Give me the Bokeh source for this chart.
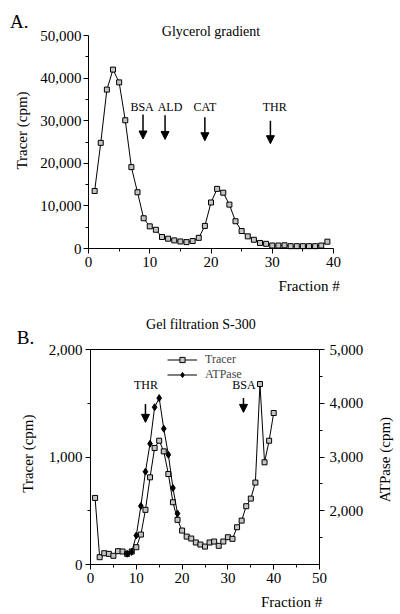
import math
from bokeh.plotting import figure
from bokeh.layouts import column
from bokeh.models import (Range1d, LinearAxis, FixedTicker, NumeralTickFormatter,
                          Label, Arrow, NormalHead, ColumnDataSource, Legend, LegendItem)
from bokeh.embed import file_html
from bokeh.resources import INLINE

FONT = "Liberation Serif"

# ---------------- Panel A data: glycerol gradient ----------------
fractions_a = list(range(1, 40))
tracer_a = [13500, 24800, 37300, 42000, 39000, 30100, 19100, 13200, 7100, 5200,
            4400, 2700, 2300, 1900, 1650, 1500, 1750, 2500, 5300, 10800,
            14000, 13100, 10300, 6400, 4100, 2850, 2050, 1300, 1100, 700,
            700, 750, 550, 550, 550, 550, 550, 700, 1600]
markers_a = ["BSA", "ALD", "CAT", "THR"]
marker_a_x = [8.9, 12.5, 19.0, 29.7]
marker_a_label_x = [8.75, 13.3, 19.0, 30.4]
marker_a_top = [31450, 31300, 30800, 30000]
marker_a_tip = [25700, 25600, 25300, 24600]
marker_a_label_y = 33170

# ---------------- Panel B data: gel filtration ----------------
fractions_b = list(range(1, 41))
tracer_b = [620, 68, 105, 99, 81, 124, 121, 99, 121, 161,
            279, 509, 812, 1085, 1153, 1054, 843, 580, 416, 316,
            260, 242, 205, 186, 167, 205, 214, 174, 214, 254,
            239, 347, 409, 543, 614, 763, 1681, 952, 1153, 1411]
fractions_atp = list(range(8, 20))
atpase_b = [1200, 1235, 1540, 2090, 2730, 3250, 3930, 4100, 3530, 3045, 2425, 1950]
markers_b = ["THR", "BSA"]
marker_b_x = [12.0, 33.4]
marker_b_label_x = [12.1, 33.5]
marker_b_top = [1495, 1550]
marker_b_tip = [1324, 1417]
marker_b_label_y = 1673

SQ_FILL = "#c4c4c4"

W = 400
HA = 297
HB = 317


def frame_range(d0, d1, p0, p1, total):
    """Range so that data d0/d1 fall at pixels p0/p1 of a frame 'total' px long."""
    s = (p1 - p0) / (d1 - d0)
    return Range1d(d0 - p0 / s, d0 + (total - p0) / s)


def style_axis(ax, size="15px"):
    ax.axis_line_color = "black"
    ax.axis_line_width = 1
    ax.major_tick_line_color = "black"
    ax.minor_tick_line_color = "black"
    ax.major_tick_out = 5
    ax.major_tick_in = 0
    ax.minor_tick_out = 3
    ax.minor_tick_in = 0
    ax.major_label_text_font = FONT
    ax.major_label_text_font_size = size
    ax.major_label_text_color = "black"


def add_text(p, x, y, text, size, align="center", angle=0.0):
    p.add_layout(Label(x=x, y=y, text=text, text_font=FONT, text_font_size=size,
                       text_align=align, text_baseline="middle", angle=angle,
                       text_color="black"))


def base_fig(h, xr, yr):
    p = figure(width=W, height=h, output_backend="svg", toolbar_location=None,
               x_range=xr, y_range=yr, min_border=0,
               min_border_left=0, min_border_right=0, min_border_top=0, min_border_bottom=0)
    p.outline_line_color = None
    p.grid.visible = False
    p.background_fill_color = "white"
    p.border_fill_color = "white"
    return p


# ================= Panel A =================
pA = base_fig(HA, frame_range(0, 40, 88, 333, W), frame_range(0, 50000, HA - 248, HA - 35, HA))

xa = pA.xaxis[0]
ya = pA.yaxis[0]
style_axis(xa)
style_axis(ya)
xa.fixed_location = 0
xa.bounds = (0, 40)
ya.fixed_location = 0
ya.bounds = (0, 50000)
xa.ticker = FixedTicker(ticks=[0, 10, 20, 30, 40], minor_ticks=[5, 15, 25, 35])
ya.ticker = FixedTicker(ticks=[0, 10000, 20000, 30000, 40000, 50000],
                        minor_ticks=[5000, 15000, 25000, 35000, 45000])
ya.formatter = NumeralTickFormatter(format="0,0")
xa.major_label_standoff = 3
ya.major_label_standoff = 2

pA.line(fractions_a, tracer_a, line_color="black", line_width=1)
pA.scatter(fractions_a, tracer_a, marker="square", size=5, fill_color=SQ_FILL,
           line_color="black", line_width=1)

srcA = ColumnDataSource(dict(x=marker_a_x, y0=marker_a_top, y1=marker_a_tip))
pA.add_layout(Arrow(source=srcA, x_start="x", y_start="y0", x_end="x", y_end="y1",
                    line_width=1.5, line_color="black",
                    end=NormalHead(size=8, fill_color="black", line_color="black", line_width=1)))
for name, lx in zip(markers_a, marker_a_label_x):
    add_text(pA, lx, marker_a_label_y, name, "12px")

add_text(pA, 20, 50940, "Glycerol gradient", "14px")
add_text(pA, -11.3, 53300, "A.", "19px")
add_text(pA, -10.8, 27700, "Tracer (cpm)", "15px", angle=math.pi / 2)
add_text(pA, 41, -8690, "Fraction #", "15px", align="right")

# ================= Panel B =================
B_TOP = HA
y0b = HB - (564 - B_TOP)
y1b = HB - (349.3 - B_TOP)
pB = base_fig(HB, frame_range(0, 50, 90, 319, W), frame_range(0, 2000, y0b, y1b, HB))
pB.extra_y_ranges = {"atp": frame_range(1000, 5000, y0b, y1b, HB)}

xb = pB.xaxis[0]
yb = pB.yaxis[0]
style_axis(xb)
style_axis(yb)
xb.fixed_location = 0
xb.bounds = (0, 50)
yb.fixed_location = 0
yb.bounds = (0, 2000)
xb.ticker = FixedTicker(ticks=[0, 10, 20, 30, 40, 50], minor_ticks=[5, 15, 25, 35, 45])
yb.ticker = FixedTicker(ticks=[0, 1000, 2000], minor_ticks=[500, 1500])
yb.formatter = NumeralTickFormatter(format="0,0")
xb.major_label_standoff = 3
yb.major_label_standoff = 3

rax = LinearAxis(y_range_name="atp", fixed_location=50, bounds=(1000, 5000))
style_axis(rax)
rax.ticker = FixedTicker(ticks=[2000, 3000, 4000, 5000], minor_ticks=[1500, 2500, 3500, 4500])
rax.formatter = NumeralTickFormatter(format="0,0")
rax.major_label_standoff = 5
pB.add_layout(rax, "right")

tax = LinearAxis(fixed_location=2000, bounds=(0, 50))
tax.ticker = FixedTicker(ticks=[], minor_ticks=[])
tax.axis_line_color = "black"
tax.major_tick_line_color = None
tax.minor_tick_line_color = None
tax.major_label_text_font_size = "0px"
pB.add_layout(tax, "above")

lt = pB.line(fractions_b, tracer_b, line_color="black", line_width=1)
st = pB.scatter(fractions_b, tracer_b, marker="square", size=5, fill_color=SQ_FILL,
                line_color="black", line_width=1)
la = pB.line(fractions_atp, atpase_b, line_color="black", line_width=1, y_range_name="atp")
sa = pB.scatter(fractions_atp, atpase_b, marker="diamond", size=7, fill_color="black",
                line_color="black", y_range_name="atp")

srcB = ColumnDataSource(dict(x=marker_b_x, y0=marker_b_top, y1=marker_b_tip))
pB.add_layout(Arrow(source=srcB, x_start="x", y_start="y0", x_end="x", y_end="y1",
                    line_width=1.5, line_color="black",
                    end=NormalHead(size=8, fill_color="black", line_color="black", line_width=1)))
for name, lx in zip(markers_b, marker_b_label_x):
    add_text(pB, lx, marker_b_label_y, name, "12px")

legend = Legend(items=[LegendItem(label="Tracer", renderers=[lt, st]),
                       LegendItem(label="ATPase", renderers=[la, sa])],
                location=(167, 232), orientation="vertical",
                border_line_color=None, background_fill_alpha=0,
                label_text_font=FONT, label_text_font_size="12px",
                glyph_width=30, glyph_height=13, label_height=13,
                label_standoff=8, spacing=0, padding=0, margin=0)
pB.add_layout(legend)

add_text(pB, 24.1, 2239, "Gel filtration S-300", "14px")
add_text(pB, -14.2, 2114, "B.", "19px")
add_text(pB, -13.65, 1033, "Tracer (cpm)", "15px", angle=math.pi / 2)
add_text(pB, 64.4, 977, "ATPase (cpm)", "15px", angle=math.pi / 2)
add_text(pB, 50.6, -351, "Fraction #", "15px", align="right")

layout = column(pA, pB, spacing=0)
open("out.html", "w").write(file_html(layout, INLINE))
